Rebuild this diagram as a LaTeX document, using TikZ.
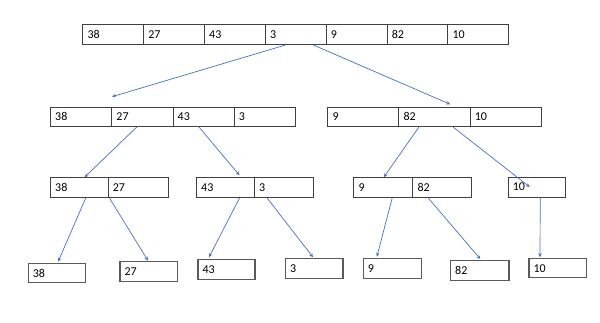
\documentclass[tikz,border=0pt]{standalone}
\usepackage{fontspec}
\setmainfont{Carlito}
\usetikzlibrary{arrows.meta,calc}
\definecolor{boxc}{HTML}{404040}
\definecolor{boxd}{HTML}{5A5A5A}
\definecolor{arr}{HTML}{4472C4}
\begin{document}
\begin{tikzpicture}[x=1pt,y=-1pt,
 cell/.style={draw=boxc, line width=0.8pt, anchor=north west, inner sep=0pt, minimum height=20pt},
 leaf/.style={cell, draw=boxd, line width=1.2pt},
 num/.style={anchor=west, inner sep=0pt, xshift=5pt, font=\fontsize{12}{14}\selectfont},
 link/.style={draw=arr, line width=0.7pt, -{Stealth[length=4pt,width=3.5pt]}}]
\fill[white] (0,0) rectangle (600,323);
\useasboundingbox (0,0) rectangle (600,323);
% row 1
\node[cell, minimum width=60.86pt, label={[num]west:38}] (r1a) at (82.3,24.3) {};
\node[cell, minimum width=60.86pt, label={[num]west:27}] (r1b) at (143.16,24.3) {};
\node[cell, minimum width=60.86pt, label={[num]west:43}] (r1c) at (204.02,24.3) {};
\node[cell, minimum width=60.86pt, label={[num]west:3}] (r1d) at (264.88,24.3) {};
\node[cell, minimum width=60.86pt, label={[num]west:9}] (r1e) at (325.74,24.3) {};
\node[cell, minimum width=60.86pt, label={[num]west:82}] (r1f) at (386.6,24.3) {};
\node[cell, minimum width=60.86pt, label={[num]west:10}] (r1g) at (447.46,24.3) {};
% row 2 left
\node[cell, minimum width=61.25pt, minimum height=18.4pt, label={[num]west:38}] (p1) at (50,107.3) {};
\node[cell, minimum width=61.25pt, minimum height=18.4pt, label={[num]west:27}] (p2) at (111.25,107.3) {};
\node[cell, minimum width=61.25pt, minimum height=18.4pt, label={[num]west:43}] (p3) at (172.5,107.3) {};
\node[cell, minimum width=61.25pt, minimum height=18.4pt, label={[num]west:3}] (p4) at (233.75,107.3) {};
% row 2 right
\node[cell, minimum width=71.13pt, minimum height=19pt, label={[num]west:9}] (q1) at (327.3,106.7) {};
\node[cell, minimum width=71.13pt, minimum height=19pt, label={[num]west:82}] (q2) at (398.43,106.7) {};
\node[cell, minimum width=71.13pt, minimum height=19pt, label={[num]west:10}] (q3) at (469.56,106.7) {};
% row 3
\node[cell, minimum width=57.7pt, label={[num]west:38}] (s1) at (50,177.3) {};
\node[cell, minimum width=60pt, label={[num]west:27}] (s2) at (107.7,177.3) {};
\node[cell, minimum width=58pt, label={[num]west:43}] (t1) at (196,177.3) {};
\node[cell, minimum width=59pt, label={[num]west:3}] (t2) at (254,177.3) {};
\node[cell, minimum width=59pt, label={[num]west:9}] (u1) at (353.3,177.3) {};
\node[cell, minimum width=58.7pt, label={[num]west:82}] (u2) at (412.3,177.3) {};
\node[cell, minimum width=57.3pt, label={[num]west:10}] (v) at (507.7,176.7) {};
% row 4
\node[leaf, minimum width=57.3pt, minimum height=19.6pt, label={[num]west:38}] (w1) at (27.7,262.7) {};
\node[leaf, minimum width=57.4pt, label={[num]west:27}] (w2) at (119.3,260.7) {};
\node[leaf, minimum width=57pt, label={[num]west:43}] (w3) at (197.3,259) {};
\node[leaf, minimum width=57.3pt, label={[num]west:3}] (w4) at (285,258.3) {};
\node[leaf, minimum width=58pt, minimum height=19.7pt, label={[num]west:9}] (w5) at (362.7,258.3) {};
\node[leaf, minimum width=58.3pt, label={[num]west:82}] (w6) at (450,260) {};
\node[leaf, minimum width=57.4pt, minimum height=19pt, label={[num]west:10}] (w7) at (528.3,258.3) {};
% arrows
\draw[link] ($(r1d.south west)!0.33!(r1d.south east)$) -- ($(p1.north east)+(0,-10.6)$);
\draw[link] ($(r1d.south west)!0.79!(r1d.south east)$) -- ($(q2.north west)!0.72!(q2.north east)+(0,-2.4)$);
\draw[link] ($(p2.south west)!0.42!(p2.south east)$) -- ($(s1.north west)!0.59!(s1.north east)$);
\draw[link] ($(p3.south west)!0.42!(p3.south east)$) -- ($(t1.north west)!0.74!(t1.north east)+(0,-2)$);
\draw[link] ($(q2.south west)!0.29!(q2.south east)$) -- ($(u1.north west)!0.51!(u1.north east)$);
\draw[link] ($(q2.south west)!0.75!(q2.south east)$) -- ($(v.west)!0.38!(v.east)$);
\draw[link] ($(s1.south west)!0.61!(s1.south east)$) -- ($(w1.north west)!0.52!(w1.north east)+(0,-1)$);
\draw[link] ($(s2.south west)!0.03!(s2.south east)$) -- ($(w2.north west)!0.49!(w2.north east)$);
\draw[link] ($(t1.south west)!0.74!(t1.south east)$) -- ($(w3.north west)!0.2!(w3.north east)+(0,-1.7)$);
\draw[link] ($(t2.south west)!0.22!(t2.south east)$) -- ($(w4.north west)!0.48!(w4.north east)+(0,-1)$);
\draw[link] ($(u1.south west)!0.65!(u1.south east)$) -- ($(w5.north west)!0.24!(w5.north east)+(0,-1.6)$);
\draw[link] ($(u2.south west)!0.27!(u2.south east)$) -- ($(w6.north west)!0.51!(w6.north east)+(0,-1)$);
\draw[link] ($(v.south west)!0.56!(v.south east)$) -- ($(w7.north west)!0.2!(w7.north east)+(0,-1)$);
\end{tikzpicture}
\end{document}
